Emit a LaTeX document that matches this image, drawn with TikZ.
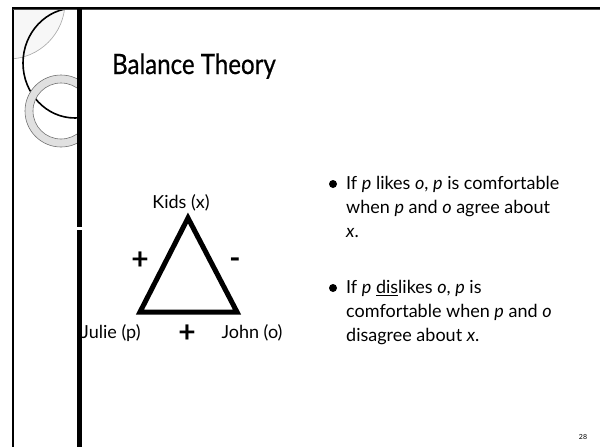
\documentclass[tikz,border=0pt]{standalone}
\usepackage{fontspec}
\setmainfont{Lato}
\newfontfamily\titlefont{Lato}[FakeStretch=0.86,FakeBold=0.6]
\usepackage{tikz}
\usetikzlibrary{calc,positioning}

\begin{document}
\begin{tikzpicture}[x=1pt,y=-1pt,
	label/.style={inner sep=0pt,font=\fontsize{18}{20}\selectfont},
	sign/.style={inner sep=0pt,font=\fontsize{30}{30}\selectfont\bfseries},
	point/.style={inner sep=0pt,align=left,anchor=north west,font=\fontsize{18}{24}\selectfont},
	dot/.style={circle,fill=black,inner sep=0pt,minimum size=8pt}]
	\useasboundingbox (0,0) rectangle (600,447);
	%\draw[color=gray,step=10pt, help lines,opacity=0.3] (0,0) grid (600,447); %help grid
	% decoration on the left
	\begin{scope}
		\clip (13,8) rectangle (78,447);
		\filldraw[fill=black!3,draw=black!35,line width=0.6pt] (8,2) circle (57);
		\draw[line width=1.6pt] (75,63) ellipse (52 and 55);
		\fill[black!12,even odd rule] (61,111) circle (36) (61,111) circle (28);
		\draw[black!55,line width=0.6pt] (61,111) circle (36) (61,111) circle (28);
	\end{scope}
	% title
	\node[anchor=base west,inner sep=0pt,font=\fontsize{28}{30}\titlefont] (title) at (112,74) {Balance Theory};
	% triangle
	\coordinate (x) at (188,218);
	\coordinate (p) at (140,312);
	\coordinate (o) at (237,312);
	\draw[line width=5pt,line join=miter] (x) -- (p) -- (o) -- cycle;
	\node[label] (kids) at (181,203) {Kids (x)};
	\node[label] (julie) at (111,333) {Julie (p)};
	\node[label] (john) at (252,333) {John (o)};
	\node[sign] (xp) at (140,261) {+};
	\node[sign] (xo) at (235,263) {-};
	\node[sign] (po) at (187,334) {+};
	% bullets
	\node[dot] (d1) at (333,184) {};
	\node[point] (b1) at (346,176) {If \textit{p} likes \textit{o}, \textit{p} is comfortable\\when \textit{p} and \textit{o} agree about\\\textit{x}.};
	\node[dot] (d2) at (333,288) {};
	\node[point] (b2) at (346,280) {If \textit{p} \underline{dis}likes \textit{o}, \textit{p} is\\comfortable when \textit{p} and \textit{o}\\disagree about \textit{x}.};
	% page number
	\node[inner sep=0pt,font=\fontsize{7}{8}\selectfont] (page) at (583,437) {28};
	% frame
	\draw[line width=2pt] (13,447) -- (13,8) -- (600,8);
	\draw[black!70,line width=0.8pt] (13,9.6) -- (600,9.6);
	\draw[line width=5pt] (79.5,8) -- (79.5,227);
	\draw[line width=5pt] (79.5,230) -- (79.5,447);
\end{tikzpicture}
\end{document}
